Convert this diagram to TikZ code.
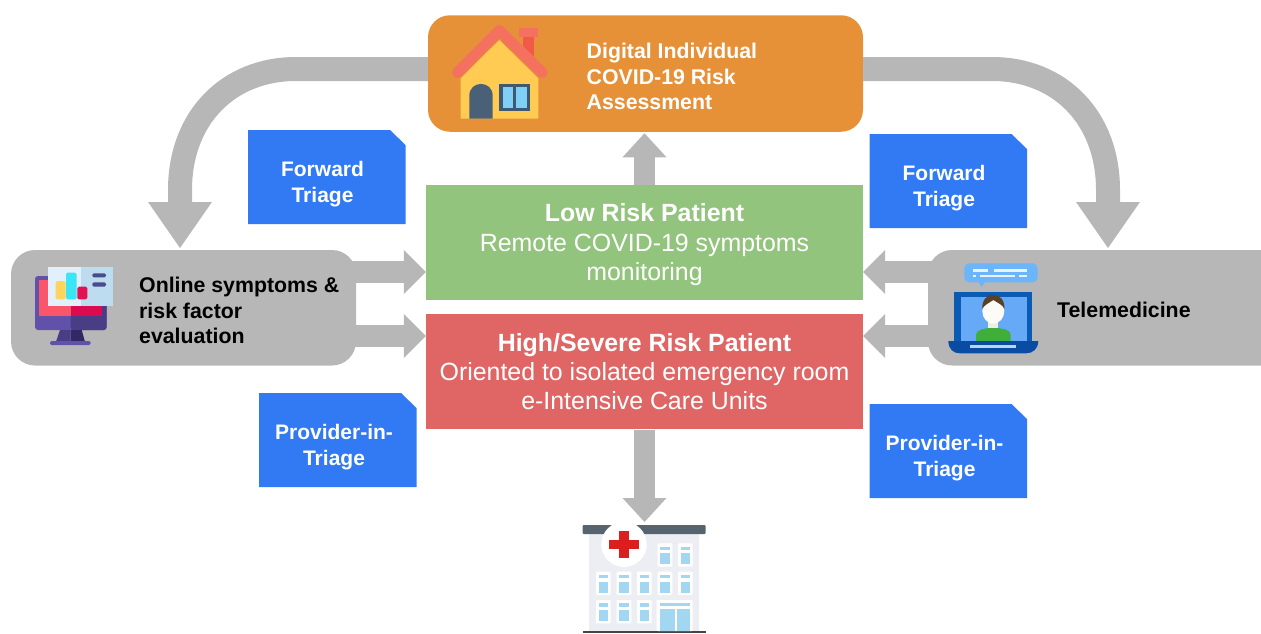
\documentclass[tikz,border=0pt]{standalone}
\usepackage{fontspec}
\setmainfont{Liberation Sans}
\usetikzlibrary{arrows.meta}
\definecolor{cgray}{HTML}{B7B7B7}
\definecolor{corange}{HTML}{E69138}
\definecolor{cgreen}{HTML}{93C47D}
\definecolor{cred}{HTML}{E06666}
\definecolor{cblue}{HTML}{317AF3}
\tikzset{
  panel/.style={inner sep=0pt,align=center,text=white,font=\fontsize{24.9}{29.3}\selectfont},
  graybox/.style={fill=cgray,rounded corners=24pt},
  label/.style={inner sep=0pt,align=left,font=\bfseries\fontsize{21.3}{25.6}\selectfont},
  bluelabel/.style={inner sep=0pt,align=center,text=white,font=\bfseries\fontsize{21}{25.6}\selectfont},
  shaftsm/.style={draw=cgray,line width=22pt,-{Triangle[length=22pt,width=44pt,line width=0pt,fill=cgray]}},
  shaftv/.style={draw=cgray,line width=21pt,-{Triangle[length=24pt,width=44pt,line width=0pt,fill=cgray]}},
  shaftlg/.style={draw=cgray,line width=24pt,-{Triangle[length=46pt,width=64pt,line width=0pt,fill=cgray]}},
}
\newcommand{\bluenote}[5]{% name, left, top, text
  \fill[cblue] (#2,#3) -- ++(142,0) -- ++(15.5,15) -- (#2+157.5,#3+94) -- (#2,#3+94) -- cycle;
  \node[bluelabel] (#1) at (#2+#4,#3+54) {#5};
}
\begin{document}
\begin{tikzpicture}[x=1pt,y=-1pt]
\useasboundingbox (0,0) rectangle (1261,633);
% gray boxes
\fill[graybox] (11,250) rectangle (356,365.5);
\node[inner sep=0pt,minimum width=345pt,minimum height=115.5pt] (online) at (183.5,307.7) {};
\fill[graybox] (928,250) rectangle (1300,365.5);
\node[inner sep=0pt,minimum width=333pt,minimum height=115.5pt] (tele) at (1094.5,307.7) {};
% panels
\node[panel,fill=corange,rounded corners=22pt,minimum width=435pt,minimum height=116.5pt] (risk) at (645.5,73.5) {};
\node[panel,fill=cgreen,minimum width=437pt,minimum height=115.5pt] (low) at (644.5,242.7)
  {\rule{0pt}{22pt}\textbf{Low Risk Patient}\\Remote COVID-19 symptoms\\monitoring};
\node[panel,fill=cred,minimum width=437pt,minimum height=115.5pt] (high) at (644.5,371.7)
  {\textbf{High/Severe Risk Patient}\\Oriented to isolated emergency room\\e-Intensive Care Units};
\coordinate (hospital) at (644.5,522);
% connectors
\draw[shaftsm] ([xshift=-14pt,yshift=35.7pt]online.east) -- ([yshift=-29.3pt]low.west);
\draw[shaftsm] ([xshift=-14pt,yshift=-28.3pt]online.east) -- ([yshift=35.7pt]high.west);
\draw[shaftsm] ([xshift=14pt,yshift=35.7pt]tele.west) -- ([yshift=-29.3pt]low.east);
\draw[shaftsm] ([xshift=14pt,yshift=-28.3pt]tele.west) -- ([yshift=35.7pt]high.east);
\draw[shaftv,shorten >=1.3pt] (low.north) -- (low.north |- risk.south);
\draw[shaftv] (high.south) -- (hospital);
\draw[shaftlg] ([yshift=4.5pt]risk.west) -- (296,69)
  .. controls (228,69) and (180,118) .. (180,190) -- (180,248);
\draw[shaftlg] ([yshift=4.5pt]risk.east) -- (992,69)
  .. controls (1060,69) and (1108,118) .. (1108,190) -- (1108,248);
% labels
\node[label,anchor=north west,text=white] (risktxt) at (586.5,43) {Digital Individual\\COVID-19 Risk\\Assessment};
\node[label,anchor=north west] (onlinetxt) at (139,277) {Online symptoms \&\\risk factor\\evaluation};
\node[label,anchor=west] (teletxt) at (1057,310) {Telemedicine};
\bluenote{ftl}{248}{130}{74.5}{Forward\\Triage}
\bluenote{ftr}{869.5}{134}{74.5}{Forward\\Triage}
\bluenote{pl}{259}{393}{75}{Provider-in-\\Triage}
\bluenote{pr}{869.5}{404}{75}{Provider-in-\\Triage}
% house
\fill[fill={rgb,255:red,255;green,203;blue,82}] (460.7,78.3) -- (499.3,40) -- (538.3,78.3) -- (538.3,118.5) -- (460.7,118.5) -- cycle;
\fill[fill={rgb,255:red,240;green,90;blue,71}] (523.3,36) rectangle (534,56);
\fill[fill={rgb,255:red,244;green,113;blue,95}] (519.3,28.3) rectangle (538.3,37.3);
\draw[draw={rgb,255:red,244;green,113;blue,95},line width=11pt,line cap=round,line join=round] (457.5,72.5) -- (499.3,30.5) -- (542,72.5);
\fill[fill={rgb,255:red,74;green,96;blue,118}] (469.3,118.5) -- (469.3,95.7) .. controls (469.3,80) and (492.7,80) .. (492.7,95.7) -- (492.7,118.5) -- cycle;
\fill[fill={rgb,255:red,63;green,90;blue,112}] (499.3,84) rectangle (530,110.7);
\fill[fill={rgb,255:red,127;green,208;blue,247}] (502.7,87.3) rectangle (512.7,107.7);
\fill[fill={rgb,255:red,127;green,208;blue,247}] (516,87.3) rectangle (526.7,107.7);
% monitor
\fill[fill={rgb,255:red,98;green,81;blue,168},rounded corners=3pt] (35,276) rectangle (106.7,330);
\fill[fill={rgb,255:red,73;green,61;blue,134},rounded corners=3pt] (70.7,276) rectangle (106.7,330);
\fill[fill={rgb,255:red,249;green,86;blue,107}] (39.3,280) rectangle (70.7,316);
\fill[fill={rgb,255:red,219;green,11;blue,82}] (70.7,280) rectangle (101.7,316);
\fill[fill={rgb,255:red,73;green,61;blue,134}] (60,330) -- (70.7,330) -- (70.7,341.7) -- (56,341.7) -- cycle;
\fill[fill={rgb,255:red,50;green,40;blue,104}] (70.7,330) -- (81.7,330) -- (85,341.7) -- (70.7,341.7) -- cycle;
\fill[fill={rgb,255:red,98;green,81;blue,168},rounded corners=1.5pt] (50,341) rectangle (90.7,345);
\fill[fill={rgb,255:red,225;green,240;blue,251}] (48.3,266.7) rectangle (80.7,305.7);
\fill[fill={rgb,255:red,190;green,220;blue,239}] (80.7,266.7) rectangle (112.7,305.7);
\fill[fill={rgb,255:red,255;green,212;blue,92},rounded corners=1.5pt] (55.7,281) rectangle (65.7,299.3);
\fill[fill={rgb,255:red,56;green,230;blue,245},rounded corners=1.5pt] (66,272.7) rectangle (76.7,299.3);
\fill[fill={rgb,255:red,224;green,18;blue,79},rounded corners=1.5pt] (77.3,286.7) rectangle (87.3,299.3);
\fill[fill={rgb,255:red,74;green,75;blue,142},rounded corners=1.5pt] (92.3,273.3) rectangle (106,277.3);
\fill[fill={rgb,255:red,74;green,75;blue,142},rounded corners=1.5pt] (92.3,282.3) rectangle (106,286.7);
% laptop
\fill[fill={rgb,255:red,108;green,181;blue,251},rounded corners=5pt] (964.3,263.3) rectangle (1037.7,282.3);
\fill[fill={rgb,255:red,108;green,181;blue,251}] (978,281) -- (981.7,287) -- (985.5,281) -- cycle;
\foreach \a/\b/\c/\d in {973.3/269/988.3/271.7,994/269/1026.7/271.7,973.3/275/975.7/277.3,980/275/1015/277.3,1019.3/275/1026.7/277.3}
  \fill[fill={rgb,255:red,232;green,243;blue,254}] (\a,\b) rectangle (\c,\d);
\fill[fill={rgb,255:red,11;green,91;blue,181}] (954.3,291.7) rectangle (1031.7,342);
\fill[fill={rgb,255:red,102;green,169;blue,247}] (960.7,297.3) rectangle (1026.7,342);
\fill[fill={rgb,255:red,238;green,238;blue,230}] (988.3,318) rectangle (998.3,332);
\fill[fill={rgb,255:red,63;green,174;blue,58}] (976,342) -- (976,335) .. controls (976,329) and (985,329) .. (988,328) -- (998.5,328) .. controls (1002,329) and (1010.7,329) .. (1010.7,335) -- (1010.7,342) -- cycle;
\fill[fill={rgb,255:red,253;green,251;blue,245}] (993.3,311) ellipse [x radius=11,y radius=12.7];
\fill[fill={rgb,255:red,90;green,65;blue,37}] (982.3,309) .. controls (981,290) and (1005.5,290) .. (1004.3,309) .. controls (1003,305) and (998,303) .. (993.3,300) .. controls (989,303) and (984,305) .. (982.3,309) -- cycle;
\fill[fill={rgb,255:red,10;green,76;blue,163}] (948.3,341) -- (1038.3,341) .. controls (1038,349) and (1033,353.3) .. (1026,353.3) -- (960,353.3) .. controls (953,353.3) and (948.5,349) .. (948.3,341) -- cycle;
\fill[fill={rgb,255:red,184;green,214;blue,247}] (970,345) rectangle (1016,348.3);
% hospital
\fill[fill={rgb,255:red,236;green,238;blue,244}] (589.3,533) rectangle (699.3,632);
\fill[fill={rgb,255:red,86;green,100;blue,111},rounded corners=1pt] (582.7,525) rectangle (705.7,534);
\fill[fill={rgb,255:red,68;green,68;blue,68}] (582.7,630.7) rectangle (705.7,633);
\foreach \cx/\ty in {665/543.3,685.3/543.3,603.3/571.7,624/571.7,644.3/571.7,665/571.7,685.3/571.7,603.3/600,624/600,644.3/600}{
  \fill[white,rounded corners=1pt] (\cx-7.3,\ty) rectangle (\cx+7.3,\ty+23.4);
  \fill[fill={rgb,255:red,163;green,214;blue,240}] (\cx-4.8,\ty+3.3) rectangle (\cx+4.8,\ty+6.7);
  \fill[fill={rgb,255:red,163;green,214;blue,240}] (\cx-4.8,\ty+10) rectangle (\cx+4.8,\ty+21);
}
\fill[white,rounded corners=1pt] (656.7,600) rectangle (692.7,631);
\fill[fill={rgb,255:red,163;green,214;blue,240}] (660,602.7) rectangle (690,606);
\fill[fill={rgb,255:red,163;green,214;blue,240}] (660,609) rectangle (675,631);
\fill[fill={rgb,255:red,163;green,214;blue,240}] (676.7,609) rectangle (690,631);
\fill[white] (624,544.3) circle (22.7);
\fill[fill={rgb,255:red,220;green,30;blue,30}] (609.3,540) rectangle (638.7,549.3);
\fill[fill={rgb,255:red,220;green,30;blue,30}] (619.3,531) rectangle (628.7,558.3);
\end{tikzpicture}
\end{document}
